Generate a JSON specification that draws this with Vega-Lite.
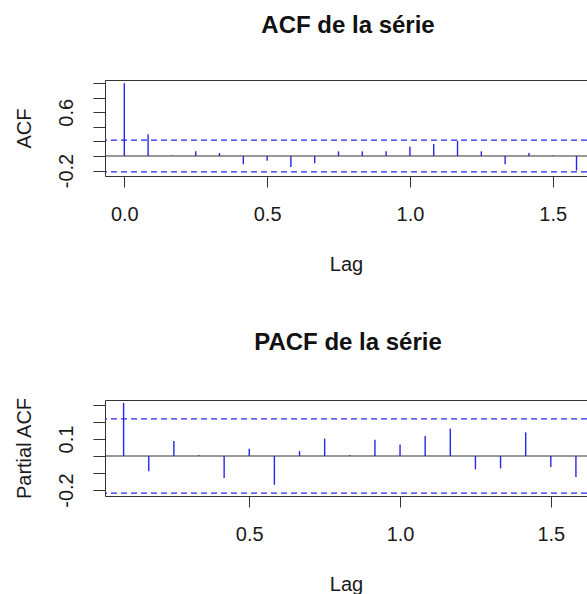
{
  "$schema": "https://vega.github.io/schema/vega-lite/v6.json",
  "padding": {"left": 14, "top": 14, "right": 0, "bottom": 0},
  "spacing": 56,
  "config": {
    "font": "Liberation Sans",
    "view": {"stroke": null},
    "axis": {
      "grid": false,
      "domainColor": "#333333",
      "domainWidth": 1,
      "tickColor": "#333333",
      "tickWidth": 1,
      "labelColor": "#1a1a1a",
      "titleColor": "#1a1a1a",
      "labelFont": "Liberation Sans",
      "titleFont": "Liberation Sans",
      "labelFontSize": 20,
      "titleFontSize": 20,
      "titleFontWeight": "normal",
      "labelOverlap": false,
      "labelFlush": false,
      "labelBound": false
    },
    "title": {
      "font": "Liberation Sans",
      "fontSize": 24,
      "fontWeight": "bold",
      "color": "#111111",
      "anchor": "middle",
      "frame": "group",
      "baseline": "alphabetic"
    }
  },
  "datasets": {
    "acf": [
      {"lag": 0, "acf": 1.0},
      {"lag": 0.0833, "acf": 0.30},
      {"lag": 0.1667, "acf": 0.005},
      {"lag": 0.25, "acf": 0.064},
      {"lag": 0.3333, "acf": 0.041},
      {"lag": 0.4167, "acf": -0.114},
      {"lag": 0.5, "acf": -0.064},
      {"lag": 0.5833, "acf": -0.151},
      {"lag": 0.6667, "acf": -0.10},
      {"lag": 0.75, "acf": 0.064},
      {"lag": 0.8333, "acf": 0.064},
      {"lag": 0.9167, "acf": 0.064},
      {"lag": 1.0, "acf": 0.128},
      {"lag": 1.0833, "acf": 0.165},
      {"lag": 1.1667, "acf": 0.21},
      {"lag": 1.25, "acf": 0.064},
      {"lag": 1.3333, "acf": -0.114},
      {"lag": 1.4167, "acf": 0.041},
      {"lag": 1.5, "acf": 0.005},
      {"lag": 1.5833, "acf": -0.20}
    ],
    "pacf": [
      {"lag": 0.0833, "pacf": 0.312},
      {"lag": 0.1667, "pacf": -0.090},
      {"lag": 0.25, "pacf": 0.088},
      {"lag": 0.3333, "pacf": 0.004},
      {"lag": 0.4167, "pacf": -0.129},
      {"lag": 0.5, "pacf": 0.043},
      {"lag": 0.5833, "pacf": -0.169},
      {"lag": 0.6667, "pacf": 0.029},
      {"lag": 0.75, "pacf": 0.102},
      {"lag": 0.8333, "pacf": 0.004},
      {"lag": 0.9167, "pacf": 0.096},
      {"lag": 1.0, "pacf": 0.067},
      {"lag": 1.0833, "pacf": 0.118},
      {"lag": 1.1667, "pacf": 0.161},
      {"lag": 1.25, "pacf": -0.078},
      {"lag": 1.3333, "pacf": -0.073},
      {"lag": 1.4167, "pacf": 0.139},
      {"lag": 1.5, "pacf": -0.065},
      {"lag": 1.5833, "pacf": -0.124}
    ],
    "bounds": [
      {"ci": 0.218},
      {"ci": -0.218}
    ],
    "zero": [
      {"h": 0}
    ]
  },
  "vconcat": [
    {
      "width": 482,
      "height": 96,
      "title": {"text": "ACF de la série", "offset": 42, "dx": 2},
      "layer": [
        {
          "data": {"name": "acf"},
          "mark": {"type": "rule", "color": "#2626f2", "strokeWidth": 1.4},
          "encoding": {
            "x": {
              "field": "lag", "type": "quantitative", "title": "Lag",
              "scale": {"domain": [-0.0676, 1.62], "nice": false, "zero": false},
              "axis": {
                "values": [0, 0.5, 1, 1.5], "tickCount": 20, "format": ".1f",
                "tickSize": 11, "labelPadding": 17,
                "minExtent": 60, "maxExtent": 60, "titlePadding": 18
              }
            },
            "y": {
              "field": "acf", "type": "quantitative", "title": "ACF",
              "scale": {"domain": [-0.275, 1.044], "nice": false, "zero": false},
              "axis": {
                "values": [-0.2, 0, 0.2, 0.4, 0.6, 0.8, 1, 1.044],
                "tickCount": 20,
                "format": ".1f",
                "labelExpr": "abs(datum.value - 0.6) < 0.01 ? '0.6' : (abs(datum.value + 0.2) < 0.01 ? '-0.2' : '')",
                "labelOverlap": false,
                "labelAngle": -90, "labelAlign": "center", "labelBaseline": "alphabetic",
                "tickSize": 12, "labelPadding": 21,
                "tickOpacity": {"condition": {"test": "datum.value > 1.04", "value": 0}, "value": 1},
                "grid": true, "gridColor": "#333333",
                "gridOpacity": {"condition": {"test": "datum.value > 1.04", "value": 1}, "value": 0},
                "minExtent": 45, "maxExtent": 45, "titlePadding": 30,
                "titleAngle": -90, "titleBaseline": "alphabetic"
              }
            },
            "y2": {"datum": 0}
          }
        },
        {
          "data": {"name": "zero"},
          "mark": {"type": "rule", "color": "#333333", "strokeWidth": 1},
          "encoding": {"y": {"field": "h", "type": "quantitative", "title": "ACF"}}
        },
        {
          "data": {"name": "bounds"},
          "mark": {"type": "rule", "color": "#2626f2", "strokeWidth": 1.2, "strokeDash": [6, 4]},
          "encoding": {"y": {"field": "ci", "type": "quantitative", "title": "ACF"}}
        }
      ]
    },
    {
      "width": 482,
      "height": 96,
      "title": {"text": "PACF de la série", "offset": 42, "dx": 2},
      "layer": [
        {
          "data": {"name": "pacf"},
          "mark": {"type": "rule", "color": "#2626f2", "strokeWidth": 1.4},
          "encoding": {
            "x": {
              "field": "lag", "type": "quantitative", "title": "Lag",
              "scale": {"domain": [0.0216, 1.62], "nice": false, "zero": false},
              "axis": {
                "values": [0.5, 1, 1.5], "tickCount": 20, "format": ".1f",
                "tickSize": 11, "labelPadding": 17,
                "minExtent": 60, "maxExtent": 60, "titlePadding": 18
              }
            },
            "y": {
              "field": "pacf", "type": "quantitative", "title": "Partial ACF",
              "scale": {"domain": [-0.235, 0.329], "nice": false, "zero": false},
              "axis": {
                "values": [-0.2, -0.1, 0, 0.1, 0.2, 0.3, 0.329],
                "tickCount": 20,
                "format": ".1f",
                "labelExpr": "abs(datum.value - 0.1) < 0.01 ? '0.1' : (abs(datum.value + 0.2) < 0.01 ? '-0.2' : '')",
                "labelOverlap": false,
                "labelAngle": -90, "labelAlign": "center", "labelBaseline": "alphabetic",
                "tickSize": 12, "labelPadding": 21,
                "tickOpacity": {"condition": {"test": "datum.value > 0.32", "value": 0}, "value": 1},
                "grid": true, "gridColor": "#333333",
                "gridOpacity": {"condition": {"test": "datum.value > 0.32", "value": 1}, "value": 0},
                "minExtent": 45, "maxExtent": 45, "titlePadding": 30,
                "titleAngle": -90, "titleBaseline": "alphabetic"
              }
            },
            "y2": {"datum": 0}
          }
        },
        {
          "data": {"name": "zero"},
          "mark": {"type": "rule", "color": "#333333", "strokeWidth": 1},
          "encoding": {"y": {"field": "h", "type": "quantitative", "title": "Partial ACF"}}
        },
        {
          "data": {"name": "bounds"},
          "mark": {"type": "rule", "color": "#2626f2", "strokeWidth": 1.2, "strokeDash": [6, 4]},
          "encoding": {"y": {"field": "ci", "type": "quantitative", "title": "Partial ACF"}}
        }
      ]
    }
  ]
}
